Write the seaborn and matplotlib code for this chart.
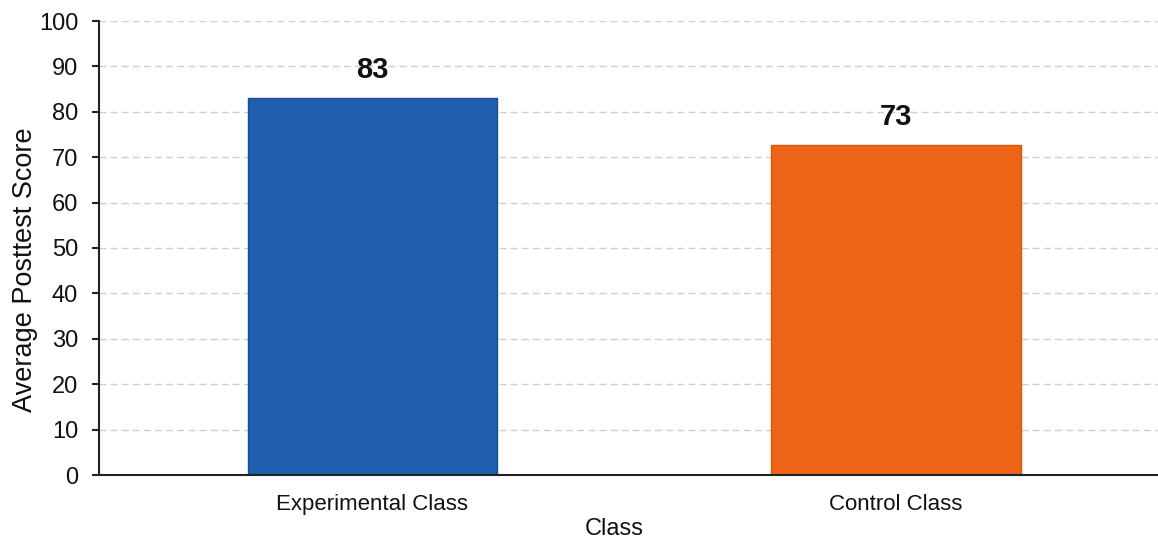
import matplotlib
matplotlib.use("Agg")
import matplotlib.pyplot as plt
import seaborn as sns
import pandas as pd

classes = ["Experimental Class", "Control Class"]
scores = [83.1, 72.7]
labels = ["83", "73"]
colors = ["#1f5fad", "#ee6416"]
edge_colors = ["#1a4f95", "#d9580f"]
yticks = [0, 10, 20, 30, 40, 50, 60, 70, 80, 90, 100]

df = pd.DataFrame({"Class": classes, "Score": scores})

sns.set_theme(style="white")
plt.rcParams["font.family"] = ["Liberation Sans", "DejaVu Sans"]

fig = plt.figure(figsize=(11.58, 5.44), dpi=100)
ax = fig.add_axes([99 / 1158, 1 - 475 / 544, 1 - 99 / 1158, (475 - 21) / 544])

sns.barplot(data=df, x="Class", y="Score", hue="Class", palette=colors,
            legend=False, width=0.476, ax=ax, saturation=1)
for patch, ec in zip(ax.patches, edge_colors):
    patch.set_edgecolor(ec)
    patch.set_linewidth(1.0)

for i, (v, lab) in enumerate(zip(scores, labels)):
    ax.annotate(lab, xy=(i, v), xytext=(0, 10), textcoords="offset points",
                ha="center", va="bottom", fontsize=21, fontweight="bold", color="#111111")

ax.set_ylim(0, 100)
ax.set_xlim(-0.522, 1.5)
ax.set_yticks(yticks)
ax.yaxis.grid(True, linestyle=(0, (5, 3)), color="#cfcfcf", linewidth=1.0)
ax.set_axisbelow(True)

for s in ["top", "right"]:
    ax.spines[s].set_visible(False)
for s in ["left", "bottom"]:
    ax.spines[s].set_color("#222222")
    ax.spines[s].set_linewidth(1.5)

ax.tick_params(axis="y", left=True, length=5, width=1.5, color="#222222",
               labelsize=17, labelcolor="#111111", pad=10)
ax.tick_params(axis="x", bottom=False, labelsize=16, labelcolor="#111111", pad=8)

ax.set_xlabel("Class", fontsize=17, color="#111111")
ax.set_ylabel("Average Posttest Score", fontsize=19.5, color="#111111")
ax.xaxis.set_label_coords(0.487, -0.095)
ax.yaxis.set_label_coords(-0.058, 0.452)

fig.savefig("out.png", dpi=100)
